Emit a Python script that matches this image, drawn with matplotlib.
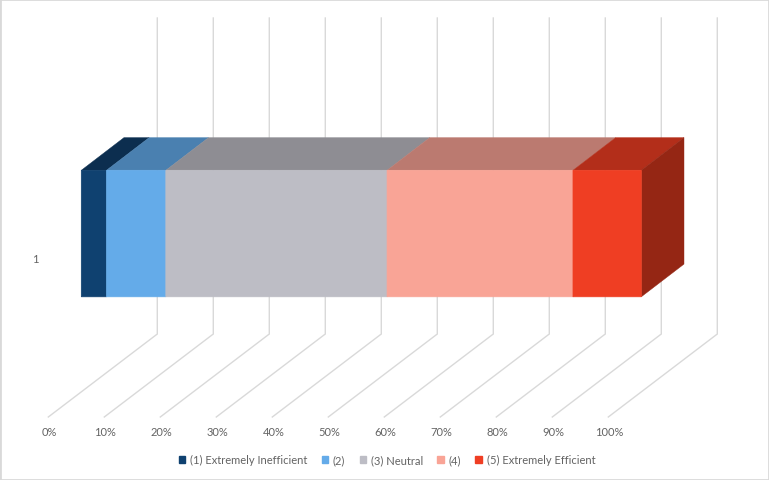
import matplotlib
matplotlib.use('Agg')
import matplotlib.pyplot as plt
from matplotlib.patches import Patch, Polygon, Rectangle

# Values
series_names = ['(1) Extremely Inefficient', '(2)', '(3) Neutral', '(4)', '(5) Extremely Efficient']
series_values = [4.5, 10.6, 39.5, 33.2, 12.2]
tick_values = [0, 10, 20, 30, 40, 50, 60, 70, 80, 90, 100]
category_labels = ['1']

# Colours for each face of the 3D bars
front_colors = ['#0F4170', '#64ABE9', '#BDBDC5', '#F9A496', '#EF3E23']
top_colors = ['#0C2E4F', '#4A80B0', '#8E8D93', '#BB7A70', '#B32E1A']
side_color = '#952614'
grid_color = '#D9D9D9'
text_color = '#636363'

plt.rcParams['font.family'] = ['Lato', 'DejaVu Sans']

fig = plt.figure(figsize=(7.69, 4.81), dpi=100)
ax = fig.add_axes([0, 0, 1, 1])

# x axis is in percent (5.6 px per percent), y axis in picture pixels
px_per_pct = 5.6
ax.set_xlim(-48.3 / px_per_pct, (769 - 48.3) / px_per_pct)
ax.set_ylim(480, -1)
ax.axis('off')

# Oblique floor direction of the fake 3D box
floor_y = 417
back_dx = 109 / px_per_pct
back_dy = 83
wall_top = 18

# Gridlines, floor part and wall part
for t in tick_values:
    ax.plot([t, t + back_dx, t + back_dx],
            [floor_y, floor_y - back_dy, wall_top],
            color=grid_color, lw=1.0, zorder=1, solid_joinstyle='miter')
    ax.text(t + 1 / px_per_pct, 431.5, f'{t}%', ha='center', va='center', fontsize=8, color=text_color)

ax.text((35 - 48.3) / px_per_pct, 258.5, category_labels[0], ha='center', va='center',
        fontsize=8, color=text_color)

# Bar box
bar_shift = 33 / px_per_pct
bar_top = 170.3
bar_bottom = 296.8
depth_dx = 42.7 / px_per_pct
depth_dy = 32.7

left = bar_shift
for value, front, top in zip(series_values, front_colors, top_colors):
    right = left + value
    ax.add_patch(Polygon([(left, bar_top), (right, bar_top),
                          (right + depth_dx, bar_top - depth_dy), (left + depth_dx, bar_top - depth_dy)],
                         closed=True, fc=top, ec=top, lw=0.3, zorder=2, snap=False))
    ax.add_patch(Rectangle((left, bar_top), value, bar_bottom - bar_top,
                           fc=front, ec=front, lw=0.5, zorder=3, snap=False))
    left = right

# Only the last segment shows its side
ax.add_patch(Polygon([(left, bar_top), (left + depth_dx, bar_top - depth_dy),
                      (left + depth_dx, bar_bottom - depth_dy), (left, bar_bottom)],
                     closed=True, fc=side_color, ec=side_color, lw=0.3, zorder=2, snap=False))

# Legend
handles = [Patch(fc=c, ec=c, label=n) for c, n in zip(front_colors, series_names)]
leg = ax.legend(handles=handles, loc='center', bbox_to_anchor=(387 / 769, 1 - 460.7 / 481), ncol=5,
                frameon=False, fontsize=8, labelcolor=text_color, handlelength=0.6, handleheight=0.6,
                handletextpad=0.4, columnspacing=1.3, borderpad=0)

# Thin frame round the chart
ax.add_patch(Rectangle((0, 0), 1, 1, transform=ax.transAxes, fill=False, ec='#D9D9D9', lw=2,
                       clip_on=True, zorder=5))

fig.savefig('out.png', dpi=100)
